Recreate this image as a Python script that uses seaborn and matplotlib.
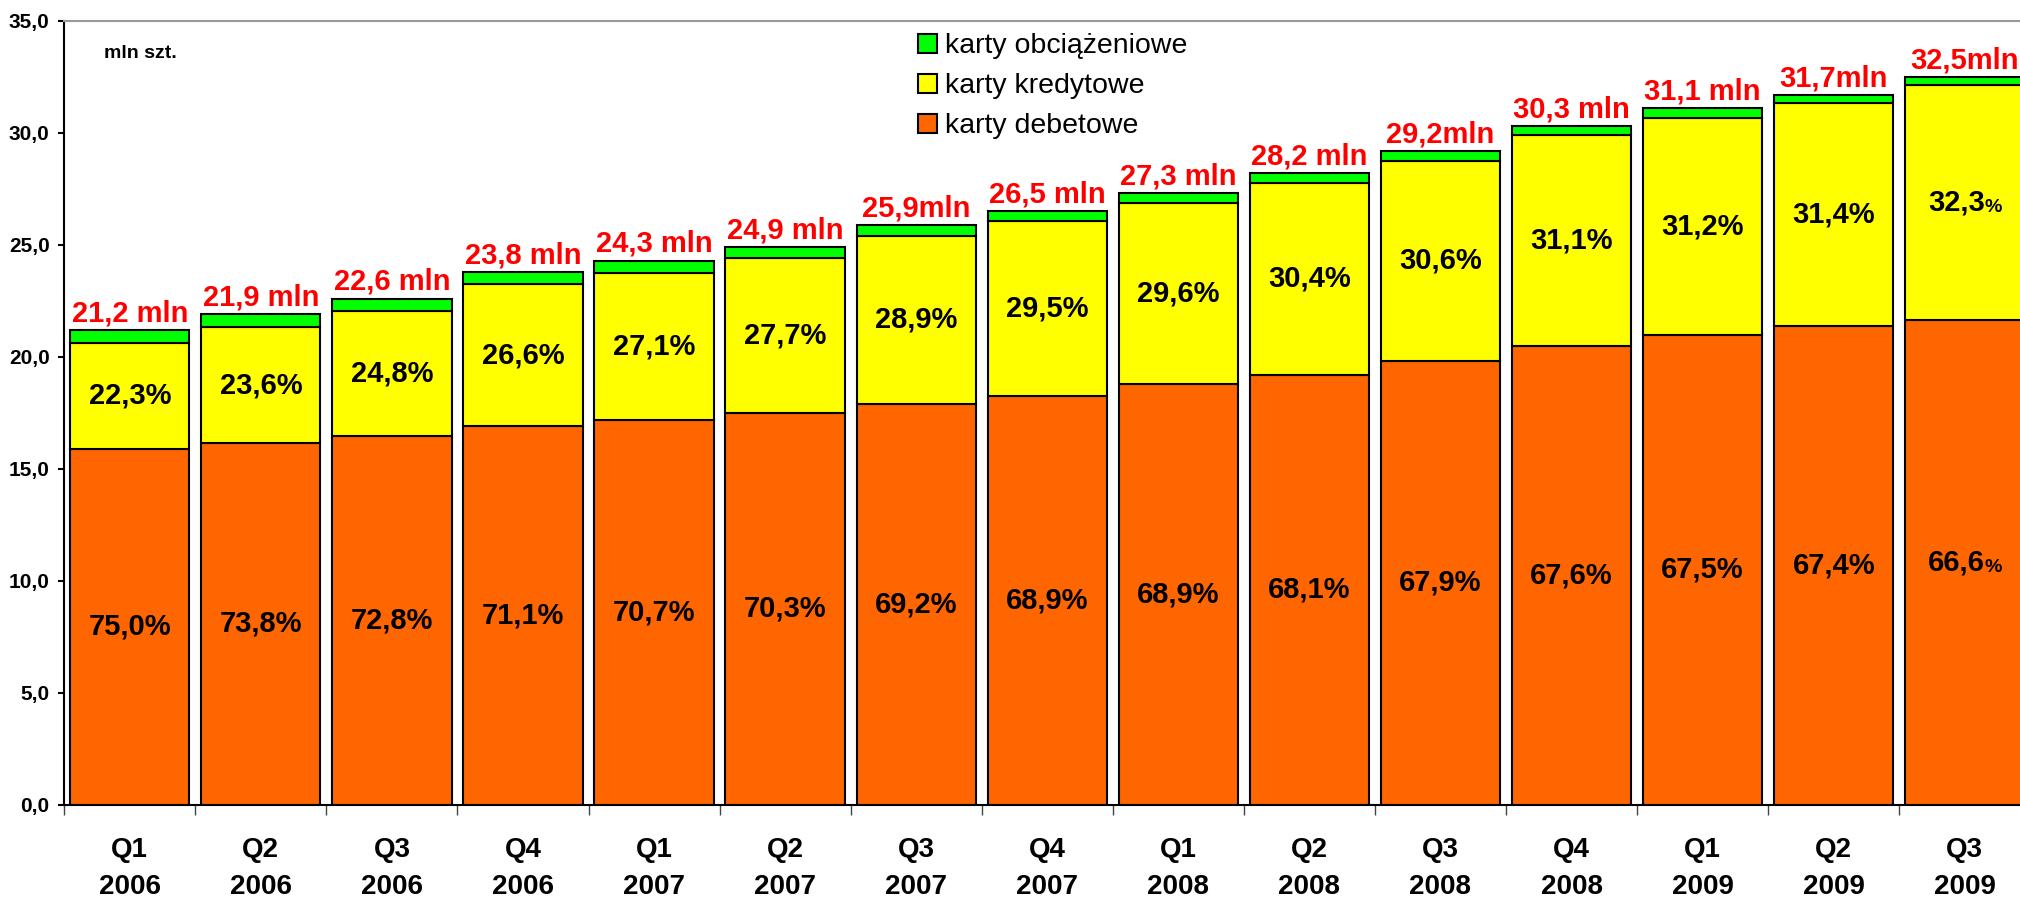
import pandas as pd
import numpy as np
import matplotlib.pyplot as plt
import seaborn as sns
from matplotlib.patches import Patch
from matplotlib.ticker import FuncFormatter, FixedLocator

quarters = ["Q1", "Q2", "Q3", "Q4", "Q1", "Q2", "Q3", "Q4", "Q1", "Q2", "Q3", "Q4", "Q1", "Q2", "Q3"]
years = ["2006", "2006", "2006", "2006", "2007", "2007", "2007", "2007",
         "2008", "2008", "2008", "2008", "2009", "2009", "2009"]

# mln szt.
debit = [15.90, 16.16, 16.45, 16.92, 17.18, 17.50, 17.92, 18.26, 18.81, 19.20, 19.83, 20.48, 20.99, 21.37, 21.65]
credit = [4.73, 5.17, 5.60, 6.33, 6.59, 6.90, 7.49, 7.82, 8.08, 8.57, 8.94, 9.42, 9.70, 9.95, 10.50]
charge = [0.57, 0.57, 0.55, 0.55, 0.53, 0.50, 0.49, 0.42, 0.41, 0.43, 0.43, 0.40, 0.41, 0.38, 0.35]

debit_pct = ["75,0%", "73,8%", "72,8%", "71,1%", "70,7%", "70,3%", "69,2%", "68,9%",
             "68,9%", "68,1%", "67,9%", "67,6%", "67,5%", "67,4%", "66,6%"]
credit_pct = ["22,3%", "23,6%", "24,8%", "26,6%", "27,1%", "27,7%", "28,9%", "29,5%",
              "29,6%", "30,4%", "30,6%", "31,1%", "31,2%", "31,4%", "32,3%"]
total_labels = ["21,2 mln", "21,9 mln", "22,6 mln", "23,8 mln", "24,3 mln", "24,9 mln", "25,9mln",
                "26,5 mln", "27,3 mln", "28,2 mln", "29,2mln", "30,3 mln", "31,1 mln", "31,7mln", "32,5mln"]

series_names = ["karty obciążeniowe", "karty kredytowe", "karty debetowe"]
colors = {"karty obciążeniowe": "#00FF00", "karty kredytowe": "#FFFF00", "karty debetowe": "#FF6600"}

df = pd.DataFrame({
    "okres": [q + "\n" + y for q, y in zip(quarters, years)],
    "debet": debit,
    "kredyt": credit,
    "obciaz": charge,
})
df["b2"] = df["debet"] + df["kredyt"]

sns.set_style("white")
plt.rcParams["font.family"] = ["Liberation Sans", "DejaVu Sans"]
plt.rcParams["text.color"] = "black"
plt.rcParams["xtick.color"] = "black"
plt.rcParams["ytick.color"] = "black"

fig = plt.figure(figsize=(20.2, 8.97), dpi=100)
ax = fig.add_axes([0.0318, 0.1026, 0.9733, 0.874])

bar_kw = dict(width=0.91, edgecolor="black", linewidth=1.5, saturation=1, errorbar=None, ax=ax)
sns.barplot(data=df, x="okres", y="debet", color=colors["karty debetowe"], **bar_kw)
sns.barplot(data=df, x="okres", y="kredyt", bottom=df["debet"], color=colors["karty kredytowe"], **bar_kw)
sns.barplot(data=df, x="okres", y="obciaz", bottom=df["b2"], color=colors["karty obciążeniowe"], **bar_kw)

deb_txt = ax.bar_label(ax.containers[0], labels=debit_pct, label_type="center", fontsize=21,
                       fontweight="bold", color="black")
cre_txt = ax.bar_label(ax.containers[1], labels=credit_pct, label_type="center", fontsize=21,
                       fontweight="bold", color="black")
ax.bar_label(ax.containers[2], labels=total_labels, padding=2, fontsize=21,
             fontweight="bold", color="red")

# last quarter: percent sign drawn smaller
for t in (deb_txt[-1], cre_txt[-1]):
    t.set_text(t.get_text().rstrip("%"))
    t.xyann = (-6, 0)
    ax.annotate("%", xy=(1, 0.02), xycoords=t, ha="left", va="bottom",
                fontsize=14, fontweight="bold", color="black")

ax.set_xlim(-0.5, len(quarters) - 0.5)
ax.set_ylim(0, 35)
ax.set_yticks(np.arange(0, 36, 5))
ax.yaxis.set_major_formatter(FuncFormatter(lambda v, p: f"{v:.1f}".replace(".", ",")))
ax.set_xlabel("")
ax.set_ylabel("")

ax.xaxis.set_minor_locator(FixedLocator(np.arange(-0.5, len(quarters), 1)))
ax.tick_params(axis="x", which="major", length=0, pad=23, labelsize=20)
ax.tick_params(axis="x", which="minor", bottom=True, length=7, width=1, color="#444444")
ax.tick_params(axis="y", left=True, length=4.5, width=1.5, labelsize=15, pad=6)
for lbl in ax.get_xticklabels():
    lbl.set_fontweight("bold")
    lbl.set_linespacing(1.55)
for lbl in ax.get_yticklabels():
    lbl.set_fontweight("bold")

for side in ["left", "bottom"]:
    ax.spines[side].set_color("black")
    ax.spines[side].set_linewidth(1.5)
ax.spines["top"].set_color("#999999")
ax.spines["top"].set_linewidth(1.5)
ax.spines["right"].set_visible(False)

fig.text(104 / 2020, 1 - 53 / 897, "mln szt.", fontsize=14, fontweight="bold", va="center")

handles = [Patch(facecolor=colors[n], edgecolor="black", linewidth=1.5) for n in series_names]
fig.legend(handles, series_names, loc="upper left", bbox_to_anchor=(0.4545, 0.963),
           frameon=False, fontsize=20.5, handlelength=0.65, handleheight=0.65,
           handletextpad=0.3, labelspacing=0.49, borderpad=0, borderaxespad=0)

fig.savefig("out.png", dpi=100)
